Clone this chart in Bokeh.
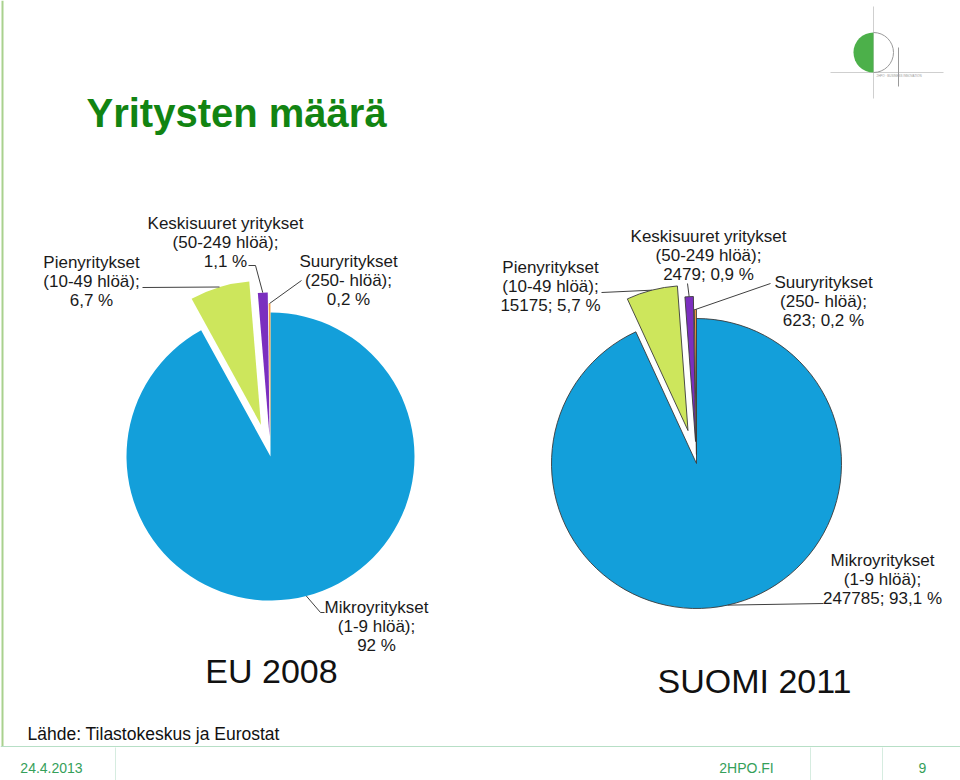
import math
from bokeh.plotting import figure
from bokeh.models import Range1d
from bokeh.embed import file_html
from bokeh.resources import INLINE
from bokeh.core.properties import value

# ---------------- data ----------------
category_names = ["Mikroyritykset", "Pienyritykset", "Keskisuuret yritykset", "Suuryritykset"]
category_sizes = ["(1-9 hlöä);", "(10-49 hlöä);", "(50-249 hlöä);", "(250- hlöä);"]
eu2008_pct = [92.0, 6.7, 1.1, 0.2]
suomi2011_count = [247785, 15175, 2479, 623]
suomi2011_pct = [93.1, 5.7, 0.9, 0.2]

title_text = "Yritysten määrä"
eu_title = "EU 2008"
suomi_title = "SUOMI 2011"
source_text = "Lähde: Tilastokeskus ja Eurostat"
footer_date = "24.4.2013"
footer_site = "2HPO.FI"
footer_page = "9"

# ---------------- styles / layout ----------------
W, H = 960, 780
slice_colors = ["#139fda", "#cde65c", "#7b2fbf", "#f5a042"]
FONT = value("Liberation Sans")
LABEL_SIZE = value("17px")
LINE_COLOR = "#404040"


def Y(py):
    return H - py


def fmt_pct(v):
    s = ("%.1f" % v).replace(".", ",")
    if s.endswith(",0"):
        s = s[:-2]
    return s + " %"


p = figure(width=W, height=H, x_range=Range1d(0, W), y_range=Range1d(0, H),
           output_backend="svg", toolbar_location=None, min_border=0)
p.xaxis.visible = False
p.yaxis.visible = False
p.grid.visible = False
p.outline_line_color = None
p.background_fill_color = "white"
p.border_fill_color = "white"


def draw_pie(cx, cy, r, values, explode, outline):
    total = float(sum(values))
    cum = 0.0
    anchors = []
    for v, col, d in zip(values, slice_colors, explode):
        a0 = cum / total
        a1 = (cum + v) / total
        cum += v
        mid = (a0 + a1) / 2 * 2 * math.pi  # clockwise from 12 o'clock
        x = cx + d * math.sin(mid)
        y = Y(cy) + d * math.cos(mid)
        start = math.pi / 2 - a1 * 2 * math.pi
        end = math.pi / 2 - a0 * 2 * math.pi
        p.wedge(x=[x], y=[y], radius=r, start_angle=start, end_angle=end,
                fill_color=col, line_color=outline, line_width=0.9 if outline else 0)
        anchors.append((x + r * math.sin(mid), y + r * math.cos(mid)))
    return anchors


def draw_labels(anchors, lines_list, text_pos, leaders, spacing=19):
    for (ax, ay), lines, (tx, ty), elbows in zip(anchors, lines_list, text_pos, leaders):
        xs = [ax] + [e[0] for e in elbows]
        ys = [ay] + [Y(e[1]) for e in elbows]
        p.line(xs, ys, line_color=LINE_COLOR, line_width=1)
        p.text(x=[tx] * len(lines), y=[Y(ty + i * spacing) for i in range(len(lines))],
               text=lines, text_font=FONT, text_font_size=LABEL_SIZE,
               text_color="#1a1a1a", text_align="center", text_baseline="middle")


# ---------------- EU 2008 pie ----------------
eu_anchors = draw_pie(270, 456, 144, eu2008_pct, [0, 33, 20, 9], None)
eu_lines = [[n, s, fmt_pct(v)] for n, s, v in zip(category_names, category_sizes, eu2008_pct)]
eu_text_pos = [(376, 607), (91, 262), (225, 223), (348, 261)]
eu_leaders = [[(320, 612), (324, 612)], [(142, 287)], [(255, 265), (248, 265)], [(301, 280)]]
draw_labels(eu_anchors, eu_lines, eu_text_pos, eu_leaders)

# ---------------- SUOMI 2011 pie ----------------
fi_anchors = draw_pie(696, 463, 145, suomi2011_count, [0, 34, 22, 9], "#3a3a3a")
fi_lines = [[n, s, "%d; %s" % (c, fmt_pct(v))]
            for n, s, c, v in zip(category_names, category_sizes, suomi2011_count, suomi2011_pct)]
fi_text_pos = [(882, 560), (550, 267), (708, 236), (823, 282)]
fi_leaders = [[(823, 603)], [(601, 292)], [(687, 283)], [(770, 283)]]
draw_labels(fi_anchors, fi_lines, fi_text_pos, fi_leaders)

# ---------------- titles ----------------
p.text(x=[86], y=[Y(112)], text=[title_text], text_font=FONT, text_font_size=value("40px"),
       text_font_style="bold", text_color="#128412", text_align="left", text_baseline="middle")
p.text(x=[271], y=[Y(670)], text=[eu_title], text_font=FONT, text_font_size=value("34px"),
       text_color="#111111", text_align="center", text_baseline="middle")
p.text(x=[754], y=[Y(680)], text=[suomi_title], text_font=FONT, text_font_size=value("34px"),
       text_color="#111111", text_align="center", text_baseline="middle")
p.text(x=[27], y=[Y(733)], text=[source_text], text_font=FONT, text_font_size=value("17.5px"),
       text_color="#111111", text_align="left", text_baseline="middle")

# ---------------- slide decoration ----------------
p.line([2, 2], [Y(0), Y(746)], line_color="#a9d18e", line_width=2)
p.line([0, W], [Y(746), Y(746)], line_color="#b7dfc6", line_width=1.2)
for sx in [115, 810, 882]:
    p.line([sx, sx], [Y(747), Y(780)], line_color="#d6ece0", line_width=1)
p.text(x=[51], y=[Y(767)], text=[footer_date], text_font=FONT, text_font_size=value("14px"),
       text_color="#35a05a", text_align="center", text_baseline="middle")
p.text(x=[746], y=[Y(767)], text=[footer_site], text_font=FONT, text_font_size=value("14px"),
       text_color="#35a05a", text_align="center", text_baseline="middle")
p.text(x=[922], y=[Y(767)], text=[footer_page], text_font=FONT, text_font_size=value("14px"),
       text_color="#35a05a", text_align="center", text_baseline="middle")

# logo (top right)
p.line([873, 873], [Y(6), Y(98)], line_color="#cfcfcf", line_width=1)
p.line([830, 943], [Y(72), Y(72)], line_color="#cfcfcf", line_width=1)
p.wedge(x=[873], y=[Y(52)], radius=20, start_angle=math.pi / 2, end_angle=3 * math.pi / 2,
        fill_color="#4cb04a", line_color=None)
p.arc(x=[873], y=[Y(52)], radius=20, start_angle=-math.pi / 2, end_angle=math.pi / 2,
      line_color="#9a9a9a", line_width=1)
p.line([898, 898], [Y(47), Y(86)], line_color="#9a9a9a", line_width=1)
p.text(x=[876], y=[Y(75)], text=["2HPO · BUSINESS INNOVATION"], text_font=FONT,
       text_font_size=value("3px"), text_color="#9a9a9a", text_align="left", text_baseline="middle")

open("out.html", "w").write(file_html(p, INLINE))
